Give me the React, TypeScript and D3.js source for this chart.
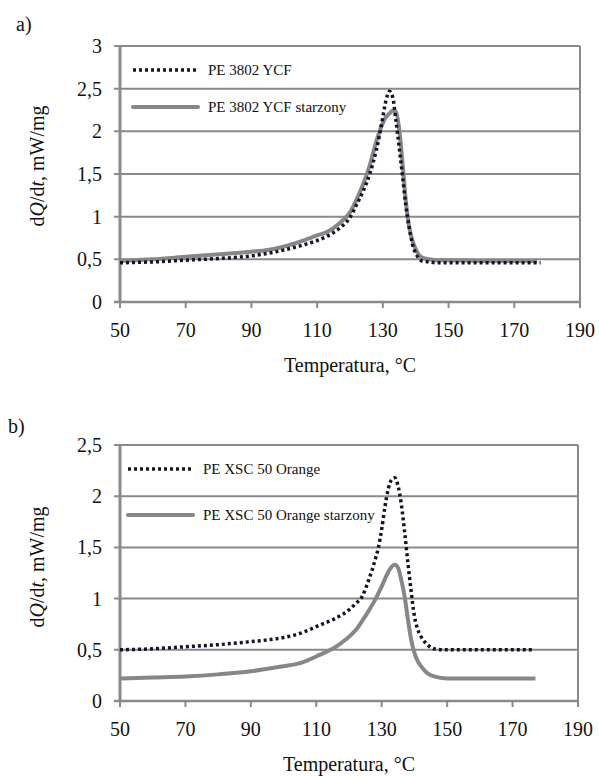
import React from "react";
import * as d3 from "d3";

// ---- Data ----
const xTicks = [50, 70, 90, 110, 130, 150, 170, 190];
const yTicksA = [0, 0.5, 1, 1.5, 2, 2.5, 3];
const yTicksB = [0, 0.5, 1, 1.5, 2, 2.5];

const tempA1 = [50, 60, 70, 80, 90, 95, 100, 105, 110, 113, 117, 120, 122, 124, 126, 128, 129, 130, 131, 132, 133, 134, 135, 136, 137, 138, 139, 140, 141, 142, 144, 146, 150, 160, 170, 178];
const valA1 = [0.46, 0.47, 0.49, 0.51, 0.54, 0.57, 0.61, 0.66, 0.72, 0.77, 0.87, 0.99, 1.14, 1.3, 1.5, 1.78, 1.96, 2.17, 2.37, 2.47, 2.4, 2.12, 1.8, 1.47, 1.13, 0.88, 0.68, 0.57, 0.51, 0.48, 0.47, 0.46, 0.46, 0.46, 0.46, 0.46];

const tempA2 = [50, 60, 70, 80, 90, 95, 100, 105, 110, 113, 117, 120, 122, 124, 126, 128, 129, 130, 131, 132, 133, 134, 135, 136, 137, 138, 139, 140, 141, 142, 144, 146, 150, 160, 170, 177];
const valA2 = [0.48, 0.5, 0.53, 0.56, 0.59, 0.61, 0.65, 0.71, 0.78, 0.82, 0.93, 1.05, 1.2, 1.38, 1.6, 1.88, 2.0, 2.1, 2.17, 2.21, 2.24, 2.23, 2.02, 1.62, 1.18, 0.88, 0.72, 0.62, 0.55, 0.52, 0.5, 0.49, 0.49, 0.48, 0.48, 0.48];

const tempB1 = [50, 60, 70, 80, 90, 96, 100, 105, 111, 116, 120, 122, 124, 126, 128, 129, 130, 131, 132, 133, 134, 135, 136, 137, 138, 139, 140, 141, 142, 144, 146, 150, 160, 170, 176];
const valB1 = [0.5, 0.51, 0.53, 0.55, 0.58, 0.6, 0.62, 0.66, 0.74, 0.81, 0.89, 0.95, 1.02, 1.18, 1.38, 1.5, 1.68, 1.9, 2.07, 2.16, 2.18, 2.1, 1.92, 1.65, 1.35, 1.07, 0.83, 0.7, 0.63, 0.55, 0.51, 0.5, 0.5, 0.5, 0.5];

const tempB2 = [50, 60, 70, 80, 90, 96, 100, 105, 111, 116, 119, 122, 124, 126, 128, 130, 132, 133, 134, 135, 136, 137, 138, 139, 140, 141, 142, 144, 146, 150, 160, 170, 177];
const valB2 = [0.22, 0.23, 0.24, 0.26, 0.29, 0.32, 0.34, 0.37, 0.45, 0.53, 0.6, 0.69, 0.78, 0.88, 0.99, 1.12, 1.26, 1.31, 1.33, 1.3, 1.18, 1.02, 0.8, 0.6, 0.47, 0.39, 0.34, 0.27, 0.24, 0.22, 0.22, 0.22, 0.22];

const legendA = ["PE 3802 YCF", "PE 3802 YCF starzony"];
const legendB = ["PE XSC 50 Orange", "PE XSC 50 Orange starzony"];

const GRID = "#8a8a8a";
const SOLID = "#878787";
const DOT = "#141428";
const FONT = "'Liberation Serif', 'Times New Roman', serif";

type Props = {
  left: number; right: number; top: number; bottom: number;
  yMax: number; yTicks: number[];
  s1: [number[], number[]]; s2: [number[], number[]];
  legend: string[]; legY: [number, number]; legX: number;
  label: string; labelX: number; labelY: number;
  yTitleY: number;
};

function Chart(p: Props) {
  const x = d3.scaleLinear().domain([50, 190]).range([p.left, p.right]);
  const y = d3.scaleLinear().domain([0, p.yMax]).range([p.bottom, p.top]);
  const line = d3.line<[number, number]>().x(d => x(d[0])).y(d => y(d[1])).curve(d3.curveMonotoneX);
  const d1 = line(p.s1[0].map((t, i) => [t, p.s1[1][i]]))!;
  const d2 = line(p.s2[0].map((t, i) => [t, p.s2[1][i]]))!;
  const cx = (p.left + p.right) / 2;
  return (
    <g fontFamily={FONT} fill="#111">
      <text x={p.labelX} y={p.labelY} fontSize={20}>{p.label}</text>
      {p.yTicks.map(t => (
        <g key={t}>
          <line x1={p.left - 6} x2={p.right} y1={y(t)} y2={y(t)} stroke={GRID} strokeWidth={t === 0 ? 2.5 : 2} />
          <text x={p.left - 18} y={y(t)} dy="0.35em" textAnchor="end" fontSize={20}>{String(t).replace(".", ",")}</text>
        </g>
      ))}
      <line x1={p.left} x2={p.left} y1={p.top} y2={p.bottom} stroke={GRID} strokeWidth={3} />
      <line x1={p.right} x2={p.right} y1={p.top} y2={p.bottom} stroke={GRID} strokeWidth={2} />
      {xTicks.map(t => (
        <g key={t}>
          <line x1={x(t)} x2={x(t)} y1={p.bottom} y2={p.bottom + 6} stroke={GRID} strokeWidth={2} />
          <text x={x(t)} y={p.bottom + 35} textAnchor="middle" fontSize={20}>{t}</text>
        </g>
      ))}
      <text x={cx} y={p.bottom + 70} textAnchor="middle" fontSize={20}>Temperatura, °C</text>
      <text transform={`translate(44,${p.yTitleY}) rotate(-90)`} textAnchor="middle" fontSize={20}>
        d<tspan fontStyle="italic">Q</tspan>/d<tspan fontStyle="italic">t</tspan>, mW/mg
      </text>
      <path d={d2} fill="none" stroke={SOLID} strokeWidth={4} strokeLinejoin="round" />
      <path d={d1} fill="none" stroke={DOT} strokeWidth={3.5} strokeDasharray="3 3" />
      <line x1={p.legX} x2={p.legX + 65} y1={p.legY[0]} y2={p.legY[0]} stroke={DOT} strokeWidth={3.5} strokeDasharray="3 3" />
      <text x={p.legX + 75} y={p.legY[0]} dy="0.35em" fontSize={15}>{p.legend[0]}</text>
      <line x1={p.legX} x2={p.legX + 65} y1={p.legY[1]} y2={p.legY[1]} stroke={SOLID} strokeWidth={4} strokeLinecap="round" />
      <text x={p.legX + 75} y={p.legY[1]} dy="0.35em" fontSize={15}>{p.legend[1]}</text>
    </g>
  );
}

export default function App() {
  return (
    <svg width={599} height={776} style={{ position: "absolute", left: 0, top: 0, background: "#fff" }}>
      <rect width={599} height={776} fill="#fff" />
      <Chart left={120} right={580} top={46} bottom={302} yMax={3} yTicks={yTicksA}
        s1={[tempA1, valA1]} s2={[tempA2, valA2]} legend={legendA} legY={[70, 107]} legX={133}
        label="a)" labelX={16} labelY={31} yTitleY={166} />
      <Chart left={120} right={578} top={445} bottom={701} yMax={2.5} yTicks={yTicksB}
        s1={[tempB1, valB1]} s2={[tempB2, valB2]} legend={legendB} legY={[469, 515]} legX={128}
        label="b)" labelX={8} labelY={433} yTitleY={567} />
    </svg>
  );
}
